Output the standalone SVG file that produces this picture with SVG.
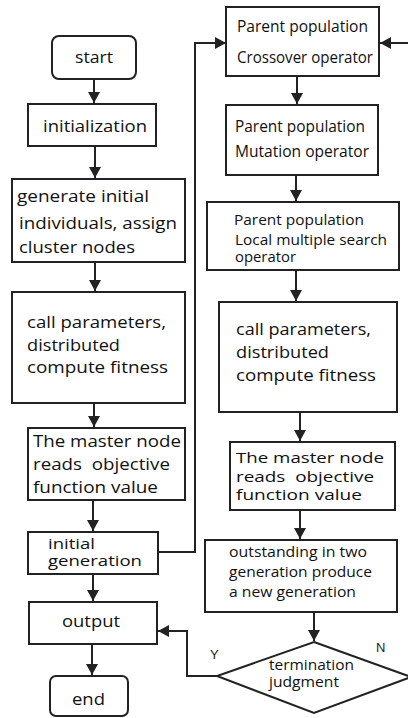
<svg xmlns="http://www.w3.org/2000/svg" width="408" height="718" viewBox="0 0 408 718">
  <style>
    .box { fill: #ffffff; stroke: #222222; stroke-width: 2; }
    .t { font-family: "Open Sans", "Noto Sans", "DejaVu Sans", sans-serif; fill: #111111; }
    .s14 { font-size: 14px; }
    .s15 { font-size: 15px; }
    .s16 { font-size: 16px; }
    .s17 { font-size: 17px; }
    .yn { font-family: "Liberation Sans", Arial, sans-serif; font-size: 13px; fill: #222222; }
    .conn { fill: none; stroke: #222222; stroke-width: 2; }
  </style>
  <defs>
    <marker id="arrow" markerUnits="userSpaceOnUse" markerWidth="12" markerHeight="12" refX="11" refY="6" orient="auto">
      <path d="M0,0 L11,6 L0,12 z" fill="#222222"/>
    </marker>
  </defs>

  <rect width="408" height="718" fill="#ffffff"/>

  <!-- connectors -->
  <g id="connectors">
    <line class="conn" x1="94" y1="80" x2="94" y2="103" marker-end="url(#arrow)"/>
    <line class="conn" x1="95" y1="147" x2="95" y2="178" marker-end="url(#arrow)"/>
    <line class="conn" x1="95" y1="262" x2="95" y2="291" marker-end="url(#arrow)"/>
    <line class="conn" x1="94" y1="403" x2="94" y2="427" marker-end="url(#arrow)"/>
    <line class="conn" x1="93" y1="500" x2="93" y2="531" marker-end="url(#arrow)"/>
    <line class="conn" x1="93" y1="574" x2="93" y2="601" marker-end="url(#arrow)"/>
    <line class="conn" x1="92" y1="644" x2="92" y2="675" marker-end="url(#arrow)"/>
    <polyline class="conn" points="158,552 195,552 195,43 226,43" marker-end="url(#arrow)"/>
    <line class="conn" x1="408" y1="43" x2="380" y2="43" marker-end="url(#arrow)"/>
    <line class="conn" x1="297" y1="76" x2="297" y2="104" marker-end="url(#arrow)"/>
    <line class="conn" x1="296" y1="175" x2="296" y2="201" marker-end="url(#arrow)"/>
    <line class="conn" x1="296" y1="270" x2="296" y2="301" marker-end="url(#arrow)"/>
    <line class="conn" x1="300" y1="412" x2="300" y2="441" marker-end="url(#arrow)"/>
    <line class="conn" x1="300" y1="510" x2="300" y2="539" marker-end="url(#arrow)"/>
    <line class="conn" x1="314" y1="612" x2="314" y2="641" marker-end="url(#arrow)"/>
    <polyline class="conn" points="217,676 187,676 187,631 158,631" stroke-width="2.5" marker-end="url(#arrow)"/>
  </g>

  <!-- left column -->
  <g id="start">
    <rect class="box" x="52" y="36" width="84" height="43" rx="7"/>
    <text class="t s17" x="75" y="63" textLength="38" lengthAdjust="spacingAndGlyphs">start</text>
  </g>
  <g id="initialization">
    <rect class="box" x="28" y="104" width="128" height="42"/>
    <text class="t s17" x="43" y="132" textLength="104" lengthAdjust="spacingAndGlyphs">initialization</text>
  </g>
  <g id="generate">
    <rect class="box" x="12" y="179" width="173" height="83"/>
    <text class="t s17" x="17" y="202" textLength="132" lengthAdjust="spacingAndGlyphs">generate initial</text>
    <text class="t s17" x="19" y="229" textLength="158" lengthAdjust="spacingAndGlyphs">individuals, assign</text>
    <text class="t s17" x="19" y="253" textLength="116" lengthAdjust="spacingAndGlyphs">cluster nodes</text>
  </g>
  <g id="call-left">
    <rect class="box" x="12" y="292" width="173" height="111"/>
    <text class="t s17" x="27" y="328" textLength="139" lengthAdjust="spacingAndGlyphs">call parameters,</text>
    <text class="t s17" x="27" y="351" textLength="93" lengthAdjust="spacingAndGlyphs">distributed</text>
    <text class="t s17" x="27" y="373" textLength="141" lengthAdjust="spacingAndGlyphs">compute fitness</text>
  </g>
  <g id="master-left">
    <rect class="box" x="28" y="428" width="157" height="72"/>
    <text class="t s17" x="33" y="447" textLength="148" lengthAdjust="spacingAndGlyphs">The master node</text>
    <text class="t s17" x="33" y="470" textLength="137" lengthAdjust="spacingAndGlyphs" xml:space="preserve">reads  objective</text>
    <text class="t s17" x="33" y="493" textLength="125" lengthAdjust="spacingAndGlyphs">function value</text>
  </g>
  <g id="initial-generation">
    <rect class="box" x="28" y="532" width="130" height="42"/>
    <text class="t s15" x="48" y="549" textLength="47" lengthAdjust="spacingAndGlyphs">initial</text>
    <text class="t s15" x="48" y="566" textLength="94" lengthAdjust="spacingAndGlyphs">generation</text>
  </g>
  <g id="output">
    <rect class="box" x="29" y="602" width="128" height="42"/>
    <text class="t s17" x="62" y="627" textLength="58" lengthAdjust="spacingAndGlyphs">output</text>
  </g>
  <g id="end">
    <rect class="box" x="50" y="676" width="78" height="40" rx="6"/>
    <text class="t s17" x="72" y="705" textLength="33" lengthAdjust="spacingAndGlyphs">end</text>
  </g>

  <!-- right column -->
  <g id="crossover">
    <rect class="box" x="226" y="7" width="153" height="69"/>
    <text class="t s16" x="237" y="32" textLength="131" lengthAdjust="spacingAndGlyphs">Parent population</text>
    <text class="t s16" x="237" y="63" textLength="136" lengthAdjust="spacingAndGlyphs">Crossover operator</text>
  </g>
  <g id="mutation">
    <rect class="box" x="226" y="105" width="152" height="70"/>
    <text class="t s16" x="235" y="132" textLength="130" lengthAdjust="spacingAndGlyphs">Parent population</text>
    <text class="t s16" x="235" y="157" textLength="134" lengthAdjust="spacingAndGlyphs">Mutation operator</text>
  </g>
  <g id="local-search">
    <rect class="box" x="207" y="202" width="192" height="68"/>
    <text class="t s15" x="234" y="225" textLength="130" lengthAdjust="spacingAndGlyphs">Parent population</text>
    <text class="t s15" x="235" y="245" textLength="152" lengthAdjust="spacingAndGlyphs">Local multiple search</text>
    <text class="t s15" x="235" y="262" textLength="61" lengthAdjust="spacingAndGlyphs">operator</text>
  </g>
  <g id="call-right">
    <rect class="box" x="219" y="302" width="178" height="110"/>
    <text class="t s17" x="236" y="335" textLength="135" lengthAdjust="spacingAndGlyphs">call parameters,</text>
    <text class="t s17" x="236" y="358" textLength="93" lengthAdjust="spacingAndGlyphs">distributed</text>
    <text class="t s17" x="236" y="381" textLength="140" lengthAdjust="spacingAndGlyphs">compute fitness</text>
  </g>
  <g id="master-right">
    <rect class="box" x="230" y="442" width="165" height="68"/>
    <text class="t s15" x="236" y="463" textLength="148" lengthAdjust="spacingAndGlyphs">The master node</text>
    <text class="t s15" x="236" y="482" textLength="138" lengthAdjust="spacingAndGlyphs" xml:space="preserve">reads  objective</text>
    <text class="t s15" x="236" y="500" textLength="126" lengthAdjust="spacingAndGlyphs">function value</text>
  </g>
  <g id="new-generation">
    <rect class="box" x="205" y="540" width="192" height="72"/>
    <text class="t s15" x="229" y="557" textLength="138" lengthAdjust="spacingAndGlyphs">outstanding in two</text>
    <text class="t s15" x="229" y="577" textLength="143" lengthAdjust="spacingAndGlyphs">generation produce</text>
    <text class="t s15" x="229" y="597" textLength="127" lengthAdjust="spacingAndGlyphs">a new generation</text>
  </g>
  <g id="termination">
    <polygon class="box" points="314,642 411,677 314,713 217,676"/>
    <text class="t s14" x="269" y="670" textLength="85" lengthAdjust="spacingAndGlyphs">termination</text>
    <text class="t s14" x="269" y="687" textLength="70" lengthAdjust="spacingAndGlyphs">judgment</text>
    <text class="yn" x="210" y="659">Y</text>
    <text class="yn" x="376" y="652">N</text>
  </g>
</svg>
